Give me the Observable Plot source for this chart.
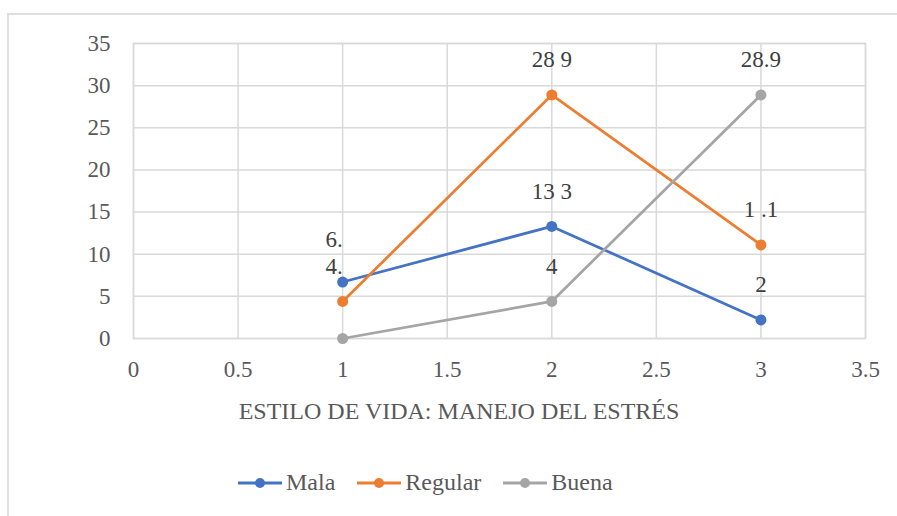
<!DOCTYPE html>
<html>
<head>
<meta charset="utf-8">
<script src="https://cdn.jsdelivr.net/npm/d3@7"></script>
<script src="https://cdn.jsdelivr.net/npm/@observablehq/plot@0.6"></script>
<style>
  body { margin: 0; background: #fff; }
  #wrap { position: relative; width: 897px; height: 516px; overflow: hidden; background: #fff; font-family: "Liberation Serif", serif; }
  #wrap * { font-family: "Liberation Serif", serif !important; }
  #border { position: absolute; left: 7px; top: 13px; width: 1000px; height: 1000px; border-top: 2px solid #dedede; border-left: 2px solid #dedede; box-sizing: border-box; }
  #chart { position: absolute; left: 0; top: 0; }
  #xtitle { position: absolute; top: 398px; left: 0; width: 918px; text-align: center; font-size: 24px; color: #595959; white-space: nowrap; }
  #legend { position: absolute; top: 469px; left: 238px; display: flex; gap: 22px; font-size: 24px; color: #595959; }
  .item { display: flex; align-items: center; gap: 4px; }
</style>
</head>
<body>
<div id="wrap">
  <div id="border"></div>
  <div id="chart"></div>
  <div id="xtitle"></div>
  <div id="legend"></div>
</div>
<script>
// ---- data ----
const xValues = [1, 2, 3];
const seriesNames = ["Mala", "Regular", "Buena"];
const malaValues = [6.7, 13.3, 2.2];
const regularValues = [4.4, 28.9, 11.1];
const buenaValues = [0, 4.4, 28.9];
const malaLabels = ["6.", "13 3", "2"];
const regularLabels = ["4.", "28 9", "1 .1"];
const buenaLabels = ["", "4", "28.9"];
const seriesColors = ["#4472C4", "#ED7D31", "#A5A5A5"];
const xTicks = [0, 0.5, 1, 1.5, 2, 2.5, 3, 3.5];
const yTicks = [0, 5, 10, 15, 20, 25, 30, 35];
const xTitle = "ESTILO DE VIDA: MANEJO DEL ESTRÉS";

// ---- build table ----
const valueSets = [malaValues, regularValues, buenaValues];
const labelSets = [malaLabels, regularLabels, buenaLabels];
const rows = [];
seriesNames.forEach((s, i) => {
  xValues.forEach((x, j) => {
    rows.push({series: s, x, y: valueSets[i][j], label: labelSets[i][j]});
  });
});

const textColor = "#595959";
const labelColor = "#404040";
const plot = Plot.plot({
  width: 897,
  height: 440,
  marginLeft: 133,
  marginRight: 32,
  marginTop: 43,
  marginBottom: 102,
  style: {fontFamily: "Liberation Serif, serif", fontSize: "23px", background: "transparent"},
  x: {domain: [0, 3.5]},
  y: {domain: [0, 35]},
  color: {domain: seriesNames, range: seriesColors},
  marks: [
    Plot.gridX(xTicks, {stroke: "#d9d9d9", strokeOpacity: 1, strokeWidth: 1.5}),
    Plot.gridY(yTicks, {stroke: "#d9d9d9", strokeOpacity: 1, strokeWidth: 1.5}),
    Plot.frame({stroke: "#d9d9d9", strokeWidth: 1.5}),
    Plot.axisX(xTicks, {tickSize: 0, tickPadding: 22, fontSize: 23, fill: textColor, label: null, tickFormat: d => String(d)}),
    Plot.axisY(yTicks, {tickSize: 0, tickPadding: 23, fontSize: 23, fill: textColor, label: null, tickFormat: d => String(d)}),
    Plot.line(rows, {x: "x", y: "y", z: "series", stroke: "series", strokeWidth: 2.75}),
    Plot.dot(rows, {x: "x", y: "y", fill: "series", r: 5.5}),
    Plot.text(rows.filter(d => d.x > 1), {x: "x", y: "y", text: "label", dy: -35, fontSize: 23, fill: labelColor}),
    Plot.text(rows.filter(d => d.x === 1 && d.series === "Mala"), {x: "x", y: "y", text: "label", dy: -42, textAnchor: "end", fontSize: 23, fill: labelColor}),
    Plot.text(rows.filter(d => d.x === 1 && d.series === "Regular"), {x: "x", y: "y", text: "label", dy: -35, textAnchor: "end", fontSize: 23, fill: labelColor})
  ]
});
document.getElementById("chart").appendChild(plot);
document.getElementById("xtitle").textContent = xTitle;

// legend
const legend = document.getElementById("legend");
seriesNames.forEach((s, i) => {
  const item = document.createElement("div");
  item.className = "item";
  item.innerHTML = `<svg width="44" height="12"><line x1="0" x2="44" y1="6" y2="6" stroke="${seriesColors[i]}" stroke-width="3"/><circle cx="22" cy="6" r="5" fill="${seriesColors[i]}"/></svg><span>${s}</span>`;
  legend.appendChild(item);
});
</script>
</body>
</html>
